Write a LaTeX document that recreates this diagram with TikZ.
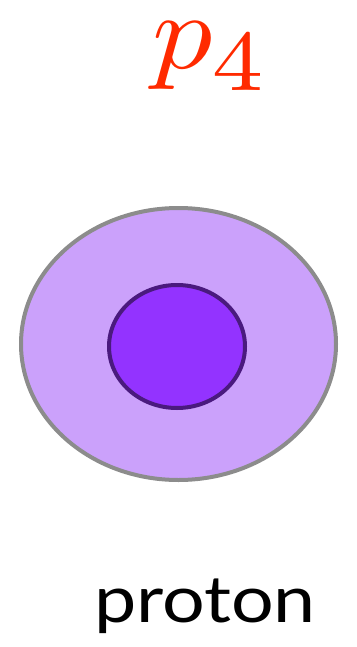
\documentclass[tikz,border=0pt]{standalone}
\usepackage{fontspec}
\setsansfont{Lato}
\usepackage{xcolor}
\usetikzlibrary{shapes.geometric}
\definecolor{cloudfill}{HTML}{CBA1FB}
\definecolor{cloudline}{HTML}{8C8C8C}
\definecolor{corefill}{HTML}{9333FF}
\definecolor{coreline}{HTML}{4A1A7E}
\definecolor{labelred}{HTML}{FF2A00}
\tikzset{
  cloud/.style={draw=cloudline,fill=cloudfill,ellipse,line width=4pt,inner sep=0pt},
  core/.style={draw=coreline,fill=corefill,ellipse,line width=4pt,inner sep=0pt},
  momentum/.style={text=labelred,inner sep=0pt},
  caption/.style={inner sep=0pt,font=\sffamily\fontsize{65}{78}\selectfont},
}
\begin{document}
\begin{tikzpicture}[x=1pt,y=-1pt]
\useasboundingbox (0,0) rectangle (356,647);
\node[cloud,minimum width=315pt,minimum height=272pt] (hadron) at (178.5,344) {};
\node[core,minimum width=136pt,minimum height=123pt] (core) at (177,346.5) {};
\node[momentum,anchor=base west] (mom) at (152,69)
  {\scalebox{12}[10.8]{$p_{\mbox{\fontsize{8}{9}\selectfont 4}}$}};
\node[caption,anchor=base] (name) at (205,622) {\scalebox{1.16}[1]{proton}};
\end{tikzpicture}
\end{document}
